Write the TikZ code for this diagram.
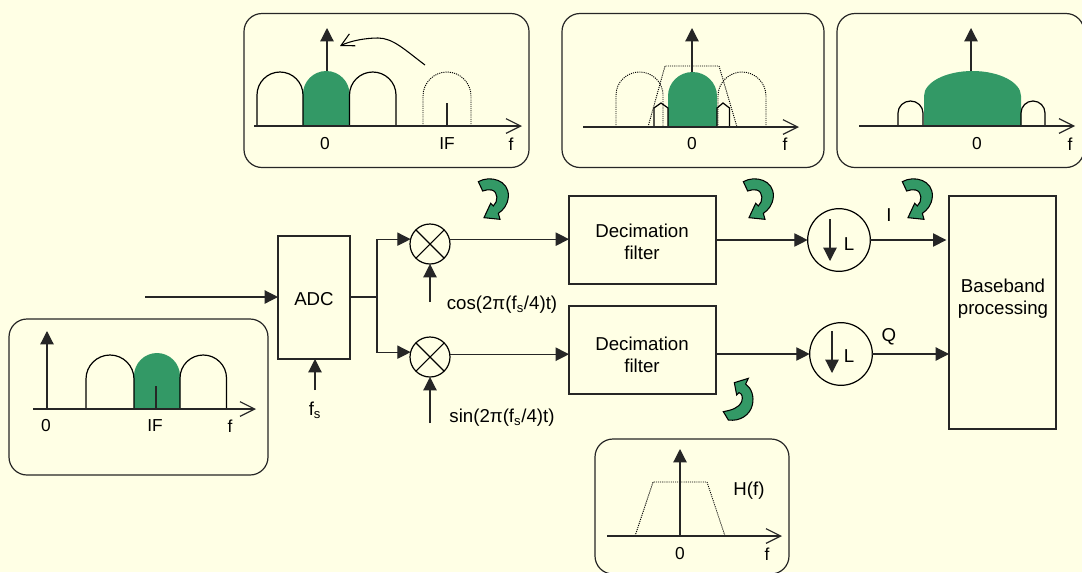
\documentclass[tikz,border=0pt]{standalone}
\usepackage{fontspec}
\setmainfont{Liberation Sans}
\usetikzlibrary{arrows.meta}
\definecolor{paper}{HTML}{FFFFE5}
\definecolor{leaf}{HTML}{339966}
\newcommand{\humppath}[5]{(#1,#5) -- (#1,#4) .. controls (#1,{#4-0.55*(#4-#3)}) and ({(#1+#2)/2-0.275*(#2-#1)},#3) .. ({(#1+#2)/2},#3) .. controls ({(#1+#2)/2+0.275*(#2-#1)},#3) and (#2,{#4-0.55*(#4-#3)}) .. (#2,#4) -- (#2,#5)}
\tikzset{
  every node/.style={inner sep=0pt,outer sep=0pt,font=\fontsize{14}{16.5}\selectfont},
  wire/.style={line width=0.9pt,black!85},
  sig/.style={wire,-{Triangle[length=10pt,width=10pt]}},
  axisline/.style={wire,-{Straight Barb[length=11pt,width=11pt]}},
  barbline/.style={line width=0.8pt,-{Straight Barb[length=9.5pt,width=10pt]}},
  hump/.style={line width=0.9pt,black},
  dotline/.style={line width=0.7pt,black,dash pattern=on 0.8pt off 0.8pt},
  panelbox/.style={draw=black!85,line width=0.9pt,rounded corners=13.5pt,rectangle},
  block/.style={draw=black!85,line width=0.9pt,rectangle,align=center},
  mixer/.style={draw=black,line width=0.9pt,circle,minimum size=30pt,
    path picture={\draw[line width=0.8pt] (path picture bounding box.north west) -- (path picture bounding box.south east)
      (path picture bounding box.north east) -- (path picture bounding box.south west);}},
  decim/.style={draw=black,line width=0.9pt,circle,minimum size=47pt},
  axlabel/.style={font=\fontsize{13}{15}\selectfont},
  curldown/.pic={\filldraw[leaf,draw=black,line width=0.8pt,scale=0.3333]
    (25,35) .. controls (60,15) and (118,30) .. (115,80) .. controls (113,105) and (100,120) .. (85,130)
    -- (90,148) -- (42,143) -- (62,100) -- (70,108) .. controls (85,95) and (85,65) .. (65,60)
    .. controls (55,58) and (47,60) .. (38,63) -- cycle;},
  curlup/.pic={\filldraw[leaf,draw=black,line width=0.8pt,scale=0.3333]
    (25,125) .. controls (50,120) and (70,115) .. (80,95) .. controls (85,80) and (80,70) .. (72,68)
    -- (65,75) -- (58,38) -- (100,25) -- (92,42) .. controls (110,55) and (118,80) .. (112,105)
    .. controls (105,135) and (75,155) .. (40,150) -- cycle;}
}
\begin{document}
\begin{tikzpicture}[x=0.75pt,y=-0.75pt]
		\fill [paper,use as bounding box] (0,0) rectangle (1082,572);
		\clip (0,0) rectangle (1082,572);
		\node [panelbox,minimum width=213.75pt,minimum height=115.5pt] (panelmix) at (386.5,90.5) {};
		\node [panelbox,minimum width=196.5pt,minimum height=115.5pt] (panelfilt) at (693,90.5) {};
		\node [panelbox,minimum width=185.25pt,minimum height=115.5pt] (paneldec) at (960.5,90.5) {};
		\node [panelbox,minimum width=194.25pt,minimum height=117pt] (panelin) at (138.5,397) {};
		\node [panelbox,minimum width=145.5pt,minimum height=101.25pt] (panelh) at (692,506.5) {};
		\fill [leaf] \humppath{303}{349.5}{71}{94}{126} -- cycle;
		\draw [hump] \humppath{257}{303}{72}{95}{126};
		\draw [hump] \humppath{349.5}{396}{72}{95}{126};
		\draw [dotline] \humppath{423}{471}{72}{96}{126};
		\draw [wire] (447,103) -- (447,126);
		\draw [axisline] (254,126) -- (522,126);
		\draw [sig] (327,71) -- (327,28);
		\draw [barbline] (425,65) .. controls (405,50) and (393,38) .. (378,38) .. controls (365,38) and (350,41) .. (340,46);
		\node [axlabel] (zeromix) at (325,144) {0};
		\node [axlabel] (ifmix) at (447,144) {IF};
		\node [axlabel] (fmix) at (511,144) {f};
		\fill [leaf] \humppath{668}{717}{72}{96}{127} -- cycle;
		\draw [dotline] \humppath{616}{663}{72}{95}{127};
		\draw [dotline] \humppath{718}{766}{72}{96}{127};
		\draw [dotline] (648,127) -- (665,66) -- (719,66) -- (737,127);
		\draw [hump] (654,127) -- (654,108) -- (661,103) -- (668,108) -- (668,127);
		\draw [hump] (717,127) -- (717,108) -- (723,103) -- (729.5,108) -- (729.5,127);
		\draw [axisline] (583,127) -- (799,127);
		\draw [sig] (692,72) -- (692,28);
		\node [axlabel] (zerofilt) at (692,144) {0};
		\node [axlabel] (ffilt) at (785,144) {f};
		\fill [leaf] \humppath{924}{1021}{71}{96}{126} -- cycle;
		\draw [hump] \humppath{898}{923}{101}{113}{126};
		\draw [hump] \humppath{1021}{1045}{101}{113}{126};
		\draw [axisline] (859,126) -- (1075,126);
		\draw [sig] (971,71) -- (971,28);
		\node [axlabel] (zerodec) at (977,144) {0};
		\node [axlabel] (fdec) at (1070,144) {f};
		\fill [leaf] \humppath{134}{180}{353}{376}{409} -- cycle;
		\draw [hump] \humppath{86}{134}{355}{379}{409};
		\draw [hump] \humppath{180}{226.5}{355}{378}{409};
		\draw [wire] (156,386) -- (156,409);
		\draw [axisline] (33,409) -- (256,409);
		\draw [sig] (47,409) -- (47,331);
		\node [axlabel] (zeroin) at (46,426) {0};
		\node [axlabel] (ifin) at (155,426) {IF};
		\node [axlabel] (fin) at (230,426) {f};
		\draw [dotline] (635,536) -- (653,482) -- (707,482) -- (725,536);
		\draw [axisline] (607,536) -- (782,536);
		\draw [sig] (680,536) -- (680,449);
		\node (hlabel) at (749,491) {H(f)};
		\node [axlabel] (zeroh) at (680,554) {0};
		\node [axlabel] (fh) at (767,554) {f};
		\node [block,minimum width=54pt,minimum height=92.25pt] (adc) at (314,297.5) {};
		\node [block,minimum width=110.25pt,minimum height=66pt] (filttop) at (642.5,240) {};
		\node [block,minimum width=110.25pt,minimum height=66pt] (filtbot) at (642.5,350) {};
		\node [block,minimum width=80.25pt,minimum height=174.75pt] (base) at (1002.5,312.5) {};
		\node (adctext) at (314,299) {ADC};
		\node [align=center] (filttoptext) at (642,242) {Decimation\\filter};
		\node [align=center] (filtbottext) at (642,355) {Decimation\\filter};
		\node [align=center] (basetext) at (1003,298.5) {Baseband\\processing};
		\node [mixer] (mixtop) at (430,244) {};
		\node [mixer] (mixbot) at (430,357) {};
		\node [decim] (decimtop) at (839,240) {};
		\node [decim] (decimbot) at (841,354) {};
		\coordinate (rfin) at (145,297);
		\coordinate (split) at (377,297);
		\coordinate (fsin) at (315,390);
		\coordinate (costone) at (430,302);
		\coordinate (sintone) at (430,423);
		\draw [sig] (rfin) -- (rfin -| adc.west);
		\draw [sig] (fsin) -- (adc.south -| fsin);
		\draw [wire] (split -| adc.east) -- (split);
		\draw [sig] (split) |- (mixtop.166);
		\draw [sig] (split) |- (mixbot.166);
		\draw [sig] (costone) -- (mixtop.south);
		\draw [sig] (sintone) -- (mixbot.south);
		\draw [sig] (mixtop.14) -- (mixtop.14 -| filttop.west);
		\draw [sig] (mixbot.8) -- (mixbot.8 -| filtbot.west);
		\draw [sig] (filttop.east |- decimtop.west) -- (decimtop.west);
		\draw [sig] (filtbot.east |- decimbot.west) -- (decimbot.west);
		\draw [sig,shorten >=2pt] (decimtop.east) -- (decimtop.east -| base.west);
		\draw [sig] (decimbot.east) -- (decimbot.east -| base.west);
		\draw [sig] (830,219) -- (830,261);
		\draw [sig] (832,331) -- (832,373);
		\node (ltop) at (849,244) {L};
		\node (lbot) at (849,356) {L};
		\node (ilabel) at (889,215) {I};
		\node (qlabel) at (889,337) {Q};
		\node (fslabel) at (315,410) {f\textsubscript{s}};
		\node (coslabel) at (502,305) {cos(2π(f\textsubscript{s}/4)t)};
		\node (sinlabel) at (502,418) {sin(2π(f\textsubscript{s}/4)t)};
		\pic at (470,170) {curldown};
		\pic at (735,170) {curldown};
		\pic at (894,170) {curldown};
		\pic at (715,370) {curlup};
	\end{tikzpicture}
\end{document}
